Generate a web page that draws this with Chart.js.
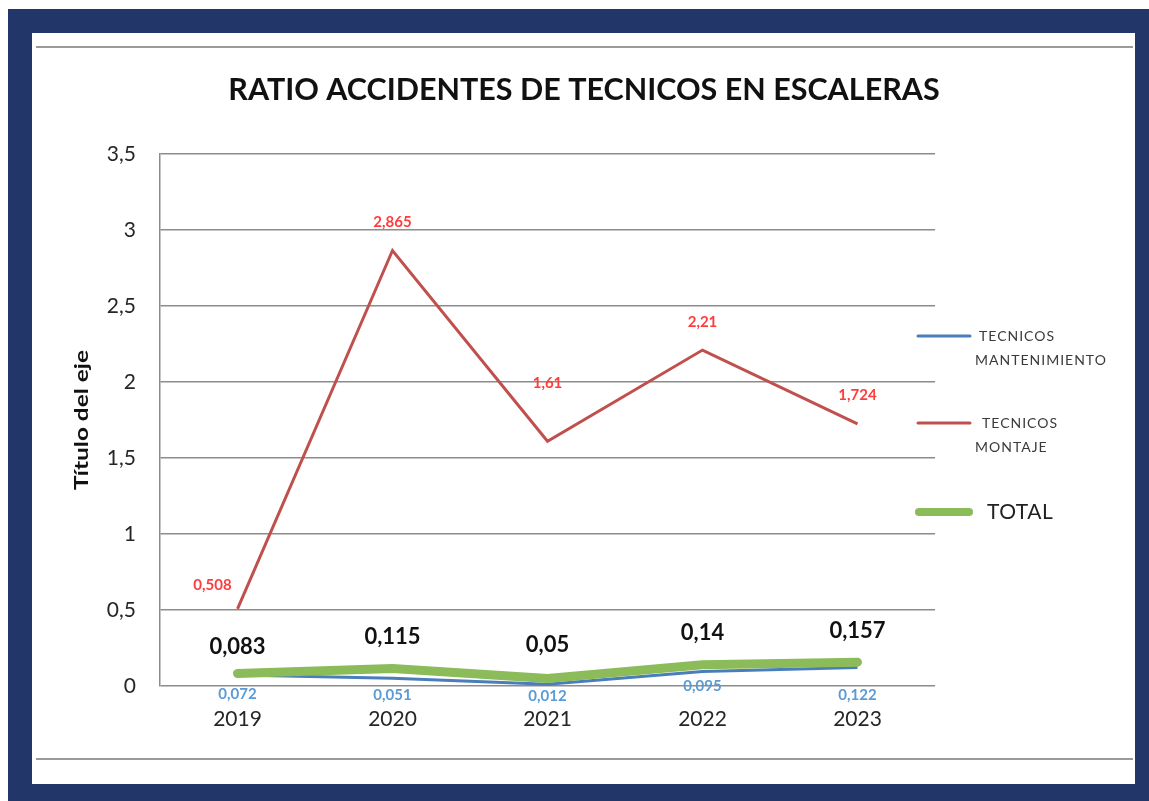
<!DOCTYPE html>
<html><head><meta charset="utf-8">
<script src="https://cdn.jsdelivr.net/npm/chart.js@4"></script>
<style>
html,body{margin:0;padding:0;background:#fff;width:1149px;height:801px;overflow:hidden}
#navy{position:absolute;left:8px;top:9px;width:1141px;height:792px;background:#22366a}
#inner{position:absolute;left:32px;top:33px;width:1103px;height:751px;background:#fff}
.hl{position:absolute;left:36px;width:1097px;height:2px;background:#9a9a9a}
#wrap{position:absolute;left:0;top:0;width:1149px;height:801px}
</style></head><body>
<div id="navy"></div><div id="inner"></div>
<div class="hl" style="top:46px"></div><div class="hl" style="top:758px"></div>
<div id="wrap"><canvas id="c" width="1149" height="801"></canvas></div>
<script>
const categories = ['2019', '2020', '2021', '2022', '2023'];
const mantenimiento = [0.072, 0.051, 0.012, 0.095, 0.122];
const montaje = [0.508, 2.865, 1.61, 2.21, 1.724];
const total = [0.083, 0.115, 0.05, 0.14, 0.157];
const seriesNames = ['TECNICOS MANTENIMIENTO', 'TECNICOS MONTAJE', 'TOTAL'];
const chartTitle = 'RATIO ACCIDENTES DE TECNICOS EN ESCALERAS';
const yAxisTitle = 'Título del eje';

const FAM = 'Lato, "Open Sans", sans-serif';
const fmt = v => String(v).replace('.', ',');

const labelPlugin = {
  id: 'ptLabels',
  afterDatasetsDraw(chart, args, opts) {
    const ctx = chart.ctx;
    ctx.save();
    chart.data.datasets.forEach((ds, i) => {
      const cfg = opts.sets[i];
      if (!cfg) return;
      const meta = chart.getDatasetMeta(i);
      ctx.font = cfg.font;
      ctx.fillStyle = cfg.color;
      ctx.textAlign = 'center';
      ctx.textBaseline = 'middle';
      meta.data.forEach((pt, j) => {
        const dx = cfg.dx ? cfg.dx[j] : 0;
        const dy = cfg.dy[j];
        ctx.fillText(fmt(ds.data[j]), pt.x + dx, pt.y + dy);
      });
    });
    ctx.restore();
  }
};

const textPlugin = {
  id: 'extraText',
  afterDraw(chart, args, opts) {
    const ctx = chart.ctx;
    ctx.save();
    ctx.font = opts.titleFont;
    ctx.fillStyle = '#111';
    ctx.textAlign = 'center';
    ctx.textBaseline = 'middle';
    ctx.fillText(chartTitle, opts.titleX, opts.titleY);
    ctx.font = opts.yTitleFont;
    const w = ctx.measureText(yAxisTitle).width;
    ctx.translate(opts.yTitleX, opts.yTitleY);
    ctx.rotate(-Math.PI / 2);
    ctx.scale(opts.yTitleLen / w, 1);
    ctx.fillText(yAxisTitle, 0, 0);
    ctx.restore();
  }
};

const legendPlugin = {
  id: 'sideLegend',
  afterDraw(chart, args, opts) {
    const ctx = chart.ctx;
    ctx.save();
    opts.items.forEach((it, i) => {
      const ds = chart.data.datasets[i];
      ctx.strokeStyle = ds.borderColor;
      ctx.lineWidth = it.lw;
      ctx.lineCap = 'round';
      ctx.beginPath();
      ctx.moveTo(it.x1, it.y);
      ctx.lineTo(it.x2, it.y);
      ctx.stroke();
      ctx.font = it.font;
      ctx.fillStyle = it.color;
      ctx.letterSpacing = it.ls;
      ctx.textAlign = 'left';
      ctx.textBaseline = 'middle';
      const words = ds.label.split(' ');
      words.forEach((w, k) => {
        ctx.fillText(w, it.tx[k], it.y + k * 24);
      });
    });
    ctx.restore();
  }
};

new Chart(document.getElementById('c'), {
  type: 'line',
  data: {
    labels: categories,
    datasets: [
      { label: seriesNames[0], data: mantenimiento, borderColor: '#4a7ebb', borderWidth: 3, pointRadius: 0, tension: 0, order: 1 },
      { label: seriesNames[1], data: montaje, borderColor: '#c0504d', borderWidth: 3, pointRadius: 0, tension: 0, order: 2 },
      { label: seriesNames[2], data: total, borderColor: '#8cbb5a', borderWidth: 9, pointRadius: 0, tension: 0, order: 0, borderCapStyle: 'round', borderJoinStyle: 'round' }
    ]
  },
  options: {
    responsive: false,
    animation: false,
    layout: { padding: { left: 67, right: 214, top: 154, bottom: 65 } },
    plugins: {
      legend: { display: false },
      tooltip: { enabled: false },
      title: { display: false },
      extraText: {
        titleFont: 'bold 30.5px ' + FAM, titleX: 584, titleY: 90,
        yTitleFont: 'bold 18px ' + FAM, yTitleX: 82, yTitleY: 420, yTitleLen: 140
      },
      ptLabels: {
        sets: [
          { font: 'bold 15px ' + FAM, color: '#5b9bd5', dy: [19, 17, 12, 15, 28] },
          { font: 'bold 15px ' + FAM, color: '#ff3b3b', dx: [-25, 0, 0, 0, 0], dy: [-24, -28, -58, -28, -29] },
          { font: 'bold 22px ' + FAM, color: '#111', dy: [-26, -32, -33, -32, -31] }
        ]
      },
      sideLegend: {
        items: [
          { x1: 918, x2: 970, y: 336, lw: 3, tx: [979, 975], font: '14px ' + FAM, color: '#3a3a3a', ls: '1px' },
          { x1: 918, x2: 970, y: 423, lw: 3, tx: [982, 975], font: '14px ' + FAM, color: '#3a3a3a', ls: '1px' },
          { x1: 919, x2: 969, y: 512, lw: 8, tx: [987], font: '21px ' + FAM, color: '#222', ls: '0.5px' }
        ]
      }
    },
    scales: {
      x: {
        offset: true,
        grid: { display: false, drawTicks: false },
        border: { display: false },
        ticks: { font: { family: FAM, size: 21 }, color: '#262626', padding: 21 },
        afterFit: s => { s.height = 50; }
      },
      y: {
        min: 0, max: 3.5,
        grid: { color: '#8c8c8c', lineWidth: 1.5, drawTicks: false },
        border: { display: true, color: '#8c8c8c', width: 1.5 },
        ticks: { stepSize: 0.5, font: { family: FAM, size: 21 }, color: '#262626', padding: 24, callback: v => fmt(v) },
        title: { display: false },
        afterFit: s => { s.width = 93; }
      }
    }
  },
  plugins: [labelPlugin, textPlugin, legendPlugin]
});
</script>
</body></html>
